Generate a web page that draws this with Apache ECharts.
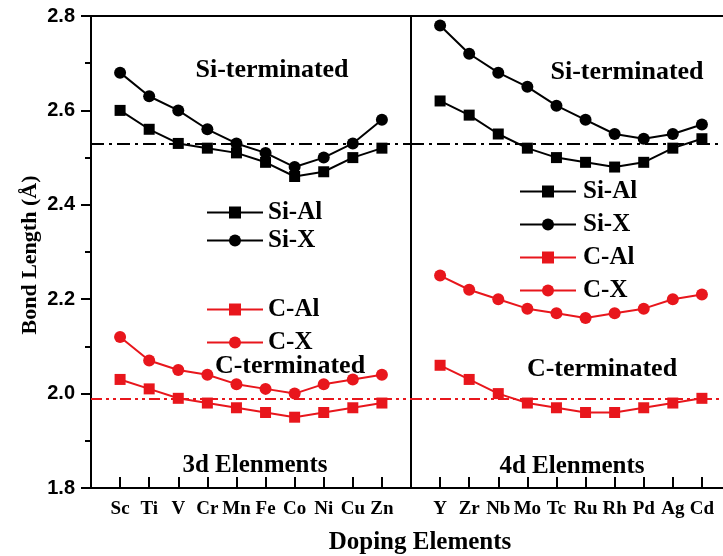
<!DOCTYPE html>
<html>
<head>
<meta charset="utf-8">
<script src="https://cdn.jsdelivr.net/npm/echarts@6/dist/echarts.min.js"></script>
<style>html,body{margin:0;padding:0;background:#fff}#c{width:723px;height:556px}</style>
</head>
<body>
<div id="c"></div>
<script>
// ---- data ----
const cats3d = ['Sc','Ti','V','Cr','Mn','Fe','Co','Ni','Cu','Zn'];
const cats4d = ['Y','Zr','Nb','Mo','Tc','Ru','Rh','Pd','Ag','Cd'];
const siAl3d = [2.60,2.56,2.53,2.52,2.51,2.49,2.46,2.47,2.50,2.52];
const siX3d  = [2.68,2.63,2.60,2.56,2.53,2.51,2.48,2.50,2.53,2.58];
const cAl3d  = [2.03,2.01,1.99,1.98,1.97,1.96,1.95,1.96,1.97,1.98];
const cX3d   = [2.12,2.07,2.05,2.04,2.02,2.01,2.00,2.02,2.03,2.04];
const siAl4d = [2.62,2.59,2.55,2.52,2.50,2.49,2.48,2.49,2.52,2.54];
const siX4d  = [2.78,2.72,2.68,2.65,2.61,2.58,2.55,2.54,2.55,2.57];
const cAl4d  = [2.06,2.03,2.00,1.98,1.97,1.96,1.96,1.97,1.98,1.99];
const cX4d   = [2.25,2.22,2.20,2.18,2.17,2.16,2.17,2.18,2.20,2.21];
const refSi = 2.53;
const refC = 1.99;
const yMin = 1.8, yMax = 2.8, yStep = 0.2;

// ---- styling ----
const BLACK = '#000000';
const RED = '#e8161c';
const SERIF = '"Liberation Serif", "Times New Roman", serif';
const SANS = '"Liberation Sans", Arial, sans-serif';

const chart = echarts.init(document.getElementById('c'), null, {renderer: 'canvas'});

function padCats(c) { return [' ', ...c, '  ']; }
function pairs(c, v) { return c.map((n, i) => [n, v[i]]); }

function xAxisFor(gridIndex, cats) {
  return {
    type: 'category', gridIndex, data: padCats(cats), boundaryGap: false,
    axisLine: {show: false},
    axisTick: {show: true, inside: true, length: 11, lineStyle: {color: BLACK, width: 2}},
    axisLabel: {color: BLACK, fontFamily: SERIF, fontWeight: 'bold', fontSize: 19, margin: 12, interval: 0},
    splitLine: {show: false}
  };
}

function lineSeries(name, gi, cats, vals, color, symbol, size, mark, dash) {
  const s = {
    name, type: 'line', xAxisIndex: gi, yAxisIndex: gi,
    data: pairs(cats, vals), symbol, symbolSize: size,
    lineStyle: {color, width: 2}, itemStyle: {color},
    z: 3
  };
  if (mark !== undefined) {
    s.markLine = {
      silent: true, symbol: ['none', 'none'], label: {show: false},
      lineStyle: {color, width: 1.8, type: dash},
      data: [{yAxis: mark}], z: 2
    };
  }
  return s;
}

function legendAt(names, left, top, gap, textGap) {
  return {
    data: names, orient: 'vertical', left, top, padding: 0, itemGap: gap,
    itemWidth: 56, itemHeight: 15, selectedMode: false,
    textStyle: {fontFamily: SERIF, fontWeight: 'bold', fontSize: 25, lineHeight: 24, color: BLACK, padding: [0, 0, 0, textGap]}
  };
}

function txt(text, x, y, size) {
  return {type: 'text', x, y, z: 10, style: {text, fill: BLACK, font: 'bold ' + size + 'px ' + SERIF, align: 'center', verticalAlign: 'middle'}};
}

const DASH_DOT = [13, 5, 3, 5];
const DASH_DOT_DOT = [11, 4, 3, 4, 3, 4];

const option = {
  animation: false,
  backgroundColor: '#fff',
  grid: [
    {left: 91, top: 16, width: 320, height: 472, show: true, borderColor: BLACK, borderWidth: 2, backgroundColor: 'transparent', outerBoundsMode: 'none', containLabel: false},
    {left: 411, top: 16, width: 320, height: 472, show: true, borderColor: BLACK, borderWidth: 2, backgroundColor: 'transparent', outerBoundsMode: 'none', containLabel: false}
  ],
  xAxis: [xAxisFor(0, cats3d), xAxisFor(1, cats4d)],
  yAxis: [
    {
      type: 'value', gridIndex: 0, min: yMin, max: yMax, interval: yStep,
      axisLine: {show: false},
      axisTick: {show: true, inside: false, length: 10, lineStyle: {color: BLACK, width: 2}},
      minorTick: {show: true, splitNumber: 2, length: 6, lineStyle: {color: BLACK, width: 2}},
      axisLabel: {color: BLACK, fontFamily: SANS, fontWeight: 'bold', fontSize: 20, margin: 16, formatter: v => v.toFixed(1)},
      splitLine: {show: false}
    },
    {type: 'value', gridIndex: 1, min: yMin, max: yMax, interval: yStep, show: false, splitLine: {show: false}}
  ],
  legend: [
    legendAt(['Si-Al', 'Si-X'], 206, 200, 3, 0),
    legendAt(['C-Al', 'C-X'], 206, 297, 8, 0),
    legendAt(['Si-Al', 'Si-X', 'C-Al', 'C-X'], 519, 179, 8, 2)
  ],
  series: [
    lineSeries('Si-Al', 0, cats3d, siAl3d, BLACK, 'rect', 11, refSi, DASH_DOT),
    lineSeries('Si-X', 0, cats3d, siX3d, BLACK, 'circle', 12),
    lineSeries('C-Al', 0, cats3d, cAl3d, RED, 'rect', 11, refC, DASH_DOT_DOT),
    lineSeries('C-X', 0, cats3d, cX3d, RED, 'circle', 12),
    lineSeries('Si-Al', 1, cats4d, siAl4d, BLACK, 'rect', 11, refSi, DASH_DOT),
    lineSeries('Si-X', 1, cats4d, siX4d, BLACK, 'circle', 12),
    lineSeries('C-Al', 1, cats4d, cAl4d, RED, 'rect', 11, refC, DASH_DOT_DOT),
    lineSeries('C-X', 1, cats4d, cX4d, RED, 'circle', 12)
  ],
  graphic: [
    txt('Si-terminated', 272, 70, 26),
    txt('Si-terminated', 627, 72, 26),
    txt('C-terminated', 290, 366, 26),
    txt('C-terminated', 602, 369, 26),
    txt('3d Elenments', 255, 466, 25),
    txt('4d Elenments', 572, 467, 25),
    txt('Doping Elements', 420, 543, 25),
    {type: 'text', x: 30, y: 255, rotation: Math.PI / 2, z: 10,
     style: {text: 'Bond Length (Å)', fill: BLACK, font: 'bold 22px ' + SERIF, align: 'center', verticalAlign: 'middle'}}
  ]
};
chart.setOption(option);
</script>
</body>
</html>
